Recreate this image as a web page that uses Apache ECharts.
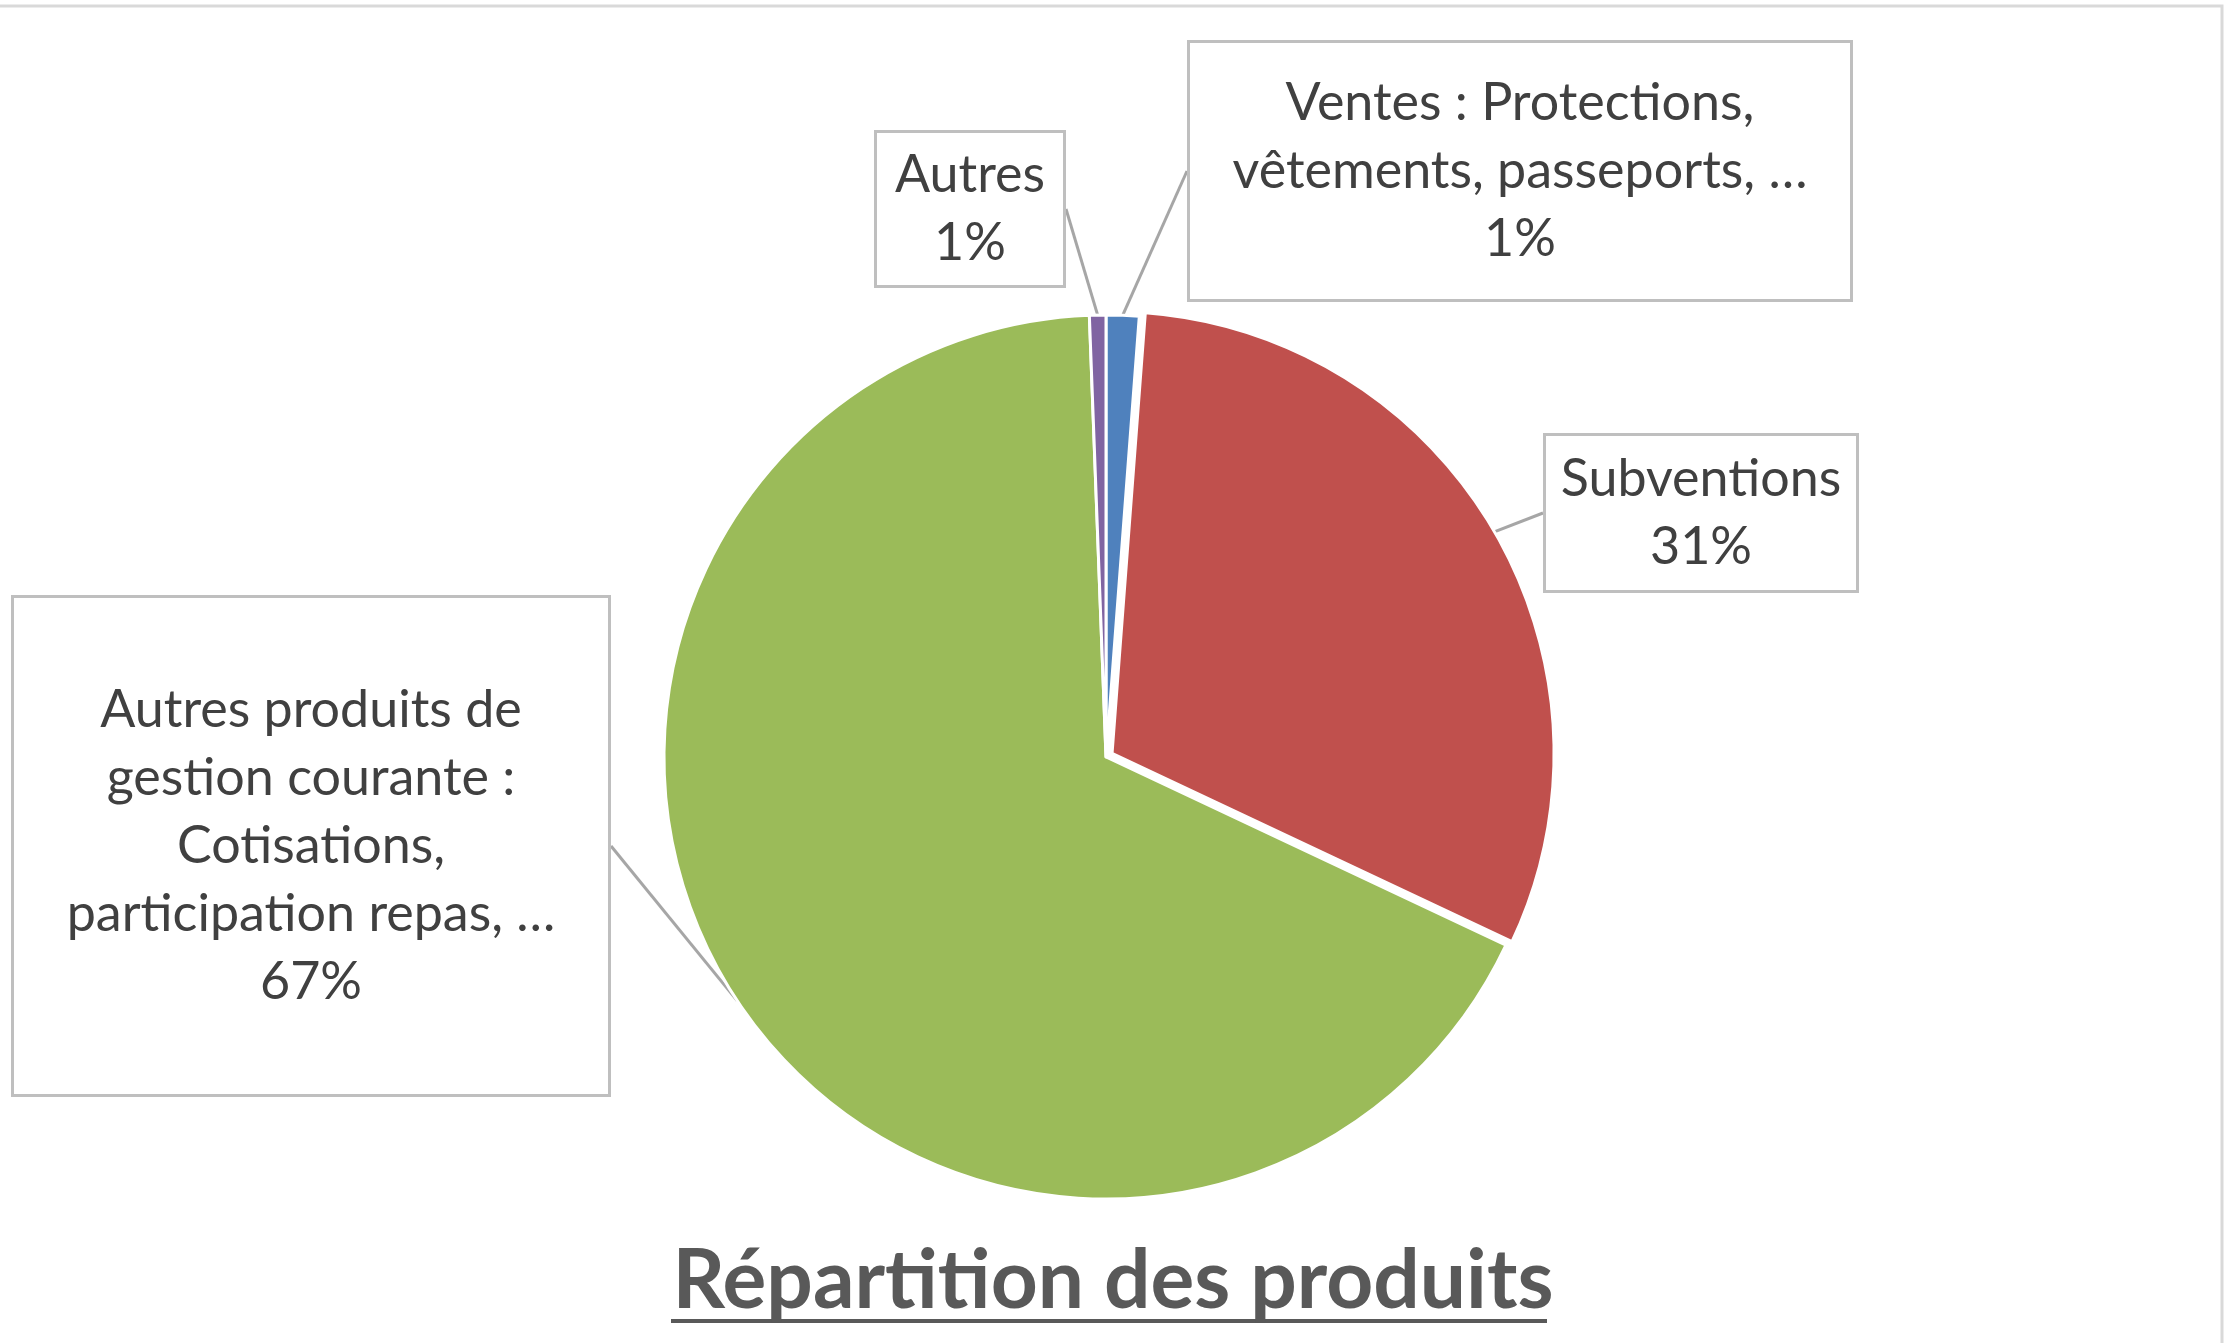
<!DOCTYPE html>
<html>
<head>
<meta charset="utf-8">
<title>Répartition des produits</title>
<script src="https://cdn.jsdelivr.net/npm/echarts@6/dist/echarts.min.js"></script>
<style>
  html, body { margin: 0; padding: 0; background: #fff; }
  #chart { width: 2226px; height: 1343px; }
</style>
</head>
<body>
<div id="chart"></div>
<script>
// data (share of total, %)
var categories = [
  'Ventes : Protections,\nvêtements, passeports, …',
  'Subventions',
  'Autres produits de\ngestion courante :\nCotisations,\nparticipation repas, …',
  'Autres'
];
var values = [1.2, 30.8, 67.4, 0.6];
var colors = ['#4F81BD', '#C0504D', '#9BBB59', '#8064A2'];

// label boxes: centre x, centre y, and size
var labelPos = [[1520, 171], [1701, 513], [311, 846], [970, 209]];
var labelBox = [
  {width: 620, height: 204, padding: [26, 20]},
  {width: 300, height: 136, padding: [9, 5]},
  {width: 560, height: 340, padding: [78, 17]},
  {width: 170, height: 136, padding: [8, 8]}
];

var pieCenter = [1106, 757];
var pieRadius = 442;
var exploded = 1;      // Subventions slice is pulled out a little
var explodeBy = 7;

var chartDom = document.getElementById('chart');
var myChart = echarts.init(chartDom);
var option;

// direction of the exploded slice (middle angle, clockwise from top)
var total = values.reduce(function (a, b) { return a + b; }, 0);
var before = 0;
for (var i = 0; i < exploded; i++) before += values[i];
var midAngle = (before + values[exploded] / 2) / total * 2 * Math.PI;
var shiftedCenter = [
  pieCenter[0] + explodeBy * Math.sin(midAngle),
  pieCenter[1] - explodeBy * Math.cos(midAngle)
];

var mainData = values.map(function (v, i) {
  var item = {
    value: v,
    name: categories[i],
    itemStyle: {color: colors[i]},
    label: labelBox[i]
  };
  if (i == exploded) item.itemStyle = {color: 'rgba(0,0,0,0)', borderWidth: 0};
  return item;
});

var explodedData = values.map(function (v, i) {
  return {
    value: v,
    name: categories[i],
    itemStyle: i == exploded ? {color: colors[i]} : {color: 'rgba(0,0,0,0)', borderWidth: 0}
  };
});

option = {
  backgroundColor: '#fff',
  animation: false,
  title: {
    text: 'Répartition des produits',
    left: 'center',
    top: 1236,
    textStyle: {
      fontFamily: 'Lato',
      fontWeight: 'bold',
      fontSize: 82,
      color: '#595959'
    }
  },
  graphic: [
    {
      type: 'rect',
      shape: {x: -10, y: 6, width: 2232, height: 1400},
      style: {fill: 'none', stroke: '#D9D9D9', lineWidth: 3},
      silent: true
    },
    {
      type: 'line',
      shape: {x1: 671, y1: 1321, x2: 1547, y2: 1321},
      style: {stroke: '#595959', lineWidth: 4},
      silent: true
    }
  ],
  series: [
    {
      type: 'pie',
      center: pieCenter,
      radius: pieRadius,
      startAngle: 90,
      clockwise: true,
      avoidLabelOverlap: false,
      itemStyle: {
        borderColor: '#fff',
        borderWidth: 3
      },
      label: {
        show: true,
        position: 'outside',
        fontFamily: 'Lato',
        fontSize: 52,
        lineHeight: 68,
        color: '#404040',
        align: 'center',
        verticalAlign: 'middle',
        backgroundColor: '#fff',
        borderColor: '#BFBFBF',
        borderWidth: 3,
        overflow: 'none',
        formatter: function (p) {
          return p.name + '\n' + Math.round(p.percent) + '%';
        }
      },
      labelLine: {
        show: true,
        length: 20,
        length2: 0,
        lineStyle: {color: '#A6A6A6', width: 3}
      },
      labelLayout: function (params) {
        var pos = labelPos[params.dataIndex];
        return {
          x: pos[0],
          y: pos[1],
          align: 'center',
          verticalAlign: 'middle'
        };
      },
      emphasis: {disabled: true},
      data: mainData
    },
    {
      type: 'pie',
      center: shiftedCenter,
      radius: pieRadius,
      startAngle: 90,
      clockwise: true,
      silent: true,
      itemStyle: {
        borderColor: '#fff',
        borderWidth: 3
      },
      label: {show: false},
      labelLine: {show: false},
      emphasis: {disabled: true},
      data: explodedData
    }
  ]
};
option && myChart.setOption(option);
</script>
</body>
</html>
